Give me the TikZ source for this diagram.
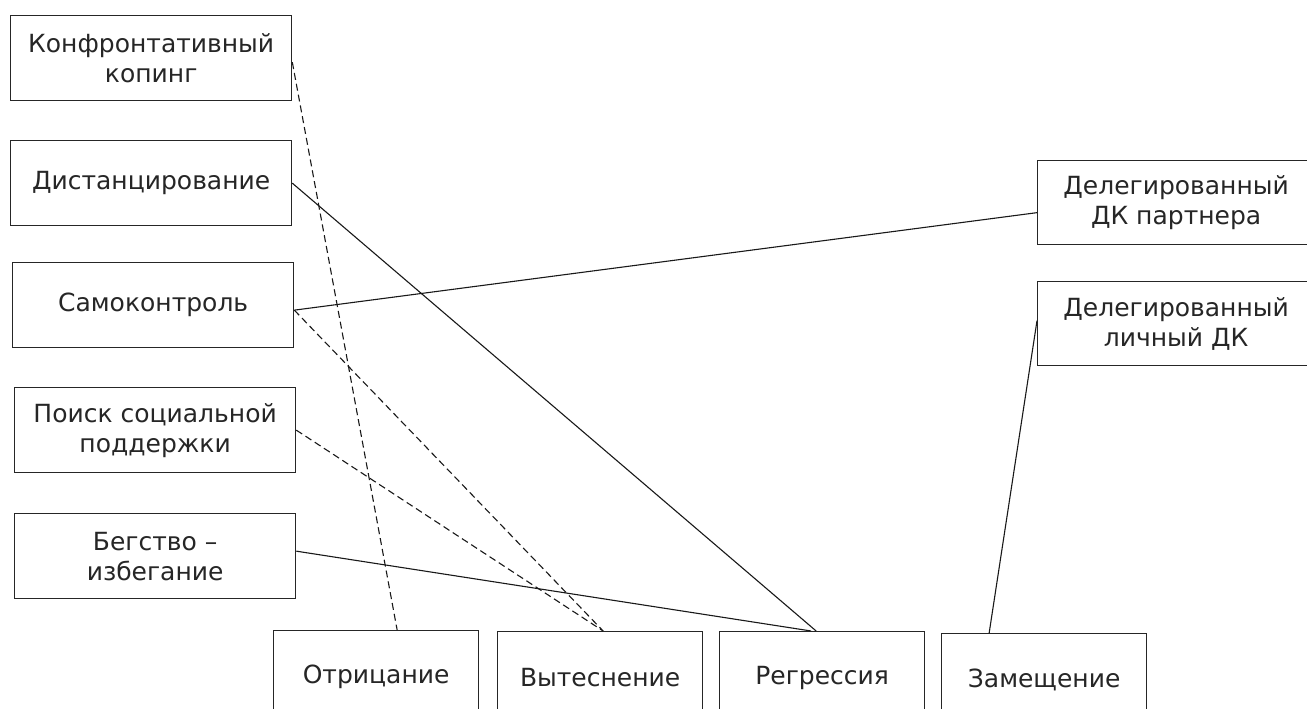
\documentclass[tikz,border=0pt]{standalone}
\usepackage{fontspec}
\setmainfont{DejaVu Sans}
\usetikzlibrary{calc}
\begin{document}
\begin{tikzpicture}[x=1pt,y=-1pt,
  box/.style={draw=black!85, line width=1.3pt, align=center, anchor=north west,
    inner sep=0pt, font=\fontsize{25}{30}\selectfont, text=black!85},
  lbox/.style={box, minimum width=281pt, minimum height=85pt},
  bbox/.style={box, minimum width=205pt, minimum height=92pt},
  link/.style={line width=1.1pt, black!90},
  dlink/.style={link, dash pattern=on 7pt off 4pt}]
\clip (0,0) rectangle (1307,709);
\fill[white] (0,0) rectangle (1307,709);
% left column
\node[lbox] (konf) at (10,15) {Конфронтативный\\копинг};
\node[lbox] (dist) at (10,140) {Дистанцирование};
\node[lbox] (samo) at (12,262) {Самоконтроль};
\node[lbox] (poisk) at (14,387) {Поиск социальной\\поддержки};
\node[lbox] (beg) at (14,513) {Бегство –\\избегание};
% right column
\node[box, minimum width=277pt, minimum height=84pt] (dpart) at (1037,160) {Делегированный\\ДК партнера};
\node[box, minimum width=277pt, minimum height=84pt] (dlich) at (1037,281) {Делегированный\\личный ДК};
% bottom row
\node[bbox] (otr) at (273,630) {Отрицание};
\node[bbox] (vyt) at (497,631) {Вытеснение};
\node[bbox] (reg) at (719,631) {Регрессия};
\node[bbox] (zam) at (941,633) {Замещение};
% connectors
\draw[dlink] ($(konf.east)+(0,4)$) -- ($(otr.north)+(21,0)$);
\draw[link] (dist.east) -- ($(reg.north)+(-6,0)$);
\draw[link] ($(samo.east)+(0,5)$) -- ($(dpart.west)+(0,10)$);
\draw[dlink] ($(samo.east)+(0,5)$) -- ($(vyt.north)+(3,0)$);
\draw[dlink] (poisk.east) -- ($(vyt.north)+(3,0)$);
\draw[link] ($(beg.east)+(0,-5)$) -- ($(reg.north)+(-11,0)$);
\draw[link] ($(zam.north)+(-55,0)$) -- ($(dlich.west)+(0,-3)$);
\end{tikzpicture}
\end{document}
